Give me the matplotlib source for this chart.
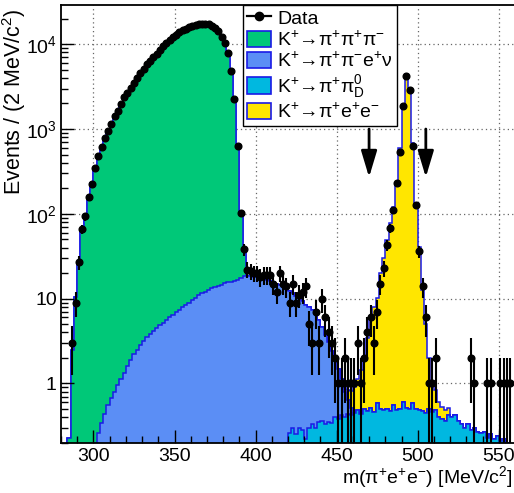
import numpy as np
import matplotlib
matplotlib.use('Agg')
import matplotlib.pyplot as plt
from matplotlib.patches import Patch
from matplotlib.lines import Line2D
from matplotlib.ticker import FixedLocator, FuncFormatter, MultipleLocator, LogLocator, NullFormatter

plt.rcParams['font.family'] = ['Liberation Sans', 'DejaVu Sans']
plt.rcParams['mathtext.fontset'] = 'custom'
plt.rcParams['mathtext.rm'] = 'Liberation Sans'
plt.rcParams['mathtext.it'] = 'Liberation Sans:italic'
plt.rcParams['mathtext.bf'] = 'Liberation Sans:bold'
plt.rcParams['mathtext.default'] = 'regular'

# ---- binning: 2 MeV bins from 280 to 560 MeV/c^2 ----
bin_edges = np.arange(280, 561, 2)

# ---- data counts per bin (centres 281, 283, ..., 559) ----
data_counts = [
    0, 0, 0, 3, 9, 27, 66, 93, 160, 225,
    351, 483, 621, 781, 960, 1150, 1430, 1650, 1970, 2380,
    2650, 3010, 3480, 3990, 4570, 5100, 5840, 6380, 6980, 7660,
    8500, 9400, 10300, 11200, 12100, 12900, 13800, 14600, 15300, 15900,
    16500, 17000, 17300, 17500, 17500, 17200, 16500, 15500, 14200, 12300,
    10300, 7870, 4870, 2250, 634, 102, 38, 22, 21, 20,
    20, 18, 19, 19, 19, 15, 12, 20, 15, 14,
    9, 15, 9, 11, 12, 14, 5, 3, 7, 3,
    10, 6, 4, 3, 2, 1, 1, 2, 1, 1,
    1, 3, 1, 2, 4, 6, 3, 7, 15, 23,
    43, 68, 111, 230, 540, 1850, 4270, 2900, 634, 127,
    36, 14, 6, 1, 1, 2, 0, 0, 0, 0,
    0, 0, 0, 0, 0, 0, 2, 1, 0, 0,
    0, 1, 1, 0, 0, 1, 1, 1, 1, 0,
]

# ---- MC: K+ -> pi+ pi+ pi- ----
mc_3pi = [
    0, 0, 0.23, 2.5, 10.5, 27, 62, 95, 155, 228,
    345, 480, 620, 780, 955, 1150, 1420, 1650, 1960, 2360,
    2650, 3000, 3470, 3980, 4560, 5100, 5830, 6370, 6970, 7650,
    8490, 9390, 10290, 11190, 12090, 12890, 13790, 14590, 15290, 15890,
    16490, 16990, 17290, 17490, 17490, 17190, 16490, 15490, 14190, 12290,
    10290, 7850, 4850, 2230, 620, 88, 20,
] + [0] * 83

# ---- MC: K+ -> pi+ pi- e+ nu ----
mc_ke4 = [0] * 10 + [
    0.2, 0.26, 0.34, 0.44, 0.55, 0.67, 0.8, 0.96, 1.12, 1.31,
    1.6, 1.9, 2.2, 2.5, 2.85, 3.2, 3.55, 3.85, 4.1, 4.5,
    4.9, 5.2, 5.6, 6.0, 6.4, 6.9, 7.3, 7.9, 8.4, 9.0,
    9.6, 10.3, 11.0, 11.6, 12.1, 12.7, 13.2, 13.7, 14.1, 14.6,
    15.2, 15.6, 15.9, 16.3, 16.8, 17.6, 18.5, 18.6, 18.4, 18.2,
    17.9, 17.5, 17.0, 16.6, 16.1, 15.6, 15.0, 14.5, 13.8, 13.0,
    12.2, 11.4, 10.6, 9.8, 9.0, 8.2, 7.6, 7.0, 6.2, 5.2,
    4.3, 3.4, 2.7, 2.1, 1.6, 1.1, 0.7, 0.4, 0.2, 0.1,
] + [0] * 50

# ---- MC: K+ -> pi+ pi0_D ----
mc_pi0d = [0] * 69 + [
    0.2, 0.26, 0.3, 0.25, 0.3, 0.28, 0.22, 0.3, 0.33, 0.3,
    0.35, 0.36, 0.33, 0.35, 0.34, 0.4, 0.38, 0.42, 0.4, 0.44,
    0.42, 0.45, 0.48, 0.44, 0.5, 0.47, 0.52, 0.46, 0.58, 0.5,
    0.48, 0.5, 0.47, 0.55, 0.48, 0.5, 0.6, 0.52, 0.5, 0.58,
    0.5, 0.48, 0.47, 0.45, 0.5, 0.46, 0.48, 0.4, 0.38, 0.36,
    0.42, 0.4, 0.42, 0.36, 0.33, 0.3, 0.33, 0.28, 0.3, 0.27,
    0.26, 0.27, 0.23, 0.25, 0.22, 0.24, 0.21, 0.22, 0.2, 0.19,
    0.18,
]

# ---- MC: K+ -> pi+ e+ e- (signal) ----
mc_piee = [0] * 87 + [
    0.1, 0.2, 0.3, 0.45, 0.65, 1.0, 1.5, 3.0, 5.5, 7.5,
    9.5, 19.5, 30, 48, 77, 119, 229, 600, 1800, 4500,
    3050, 690, 133, 40, 12, 4.6, 1.5, 0.6, 0.35, 0.2,
    0.15, 0.12, 0.1,
] + [0] * 20

signal_window = [470, 505]
x_major = [300, 350, 400, 450, 500, 550]
y_major = [1, 10, 100, 1000, 10000]

col_3pi = '#00c878'
col_ke4 = '#5b8ef5'
col_pi0d = '#00b8e0'
col_piee = '#ffe600'
col_line = '#1a1ae6'

fig = plt.figure(figsize=(5.14, 4.93), dpi=100)
ax = fig.add_axes([61 / 514, 1 - 442.7 / 493, 454 / 514, 437.7 / 493])
ax.set_yscale('log')
ax.set_xlim(280, 560)
ax.set_ylim(0.2, 29000)

data = np.array(data_counts, dtype=float)
c1 = np.array(mc_pi0d, dtype=float)
c2 = c1 + np.array(mc_ke4, dtype=float)
c3 = c2 + np.array(mc_3pi, dtype=float)
c4 = c3 + np.array(mc_piee, dtype=float)

floor = 1e-3
for vals, col in [(c4, col_piee), (c3, col_3pi), (c2, col_ke4), (c1, col_pi0d)]:
    ax.stairs(np.maximum(vals, floor), bin_edges, baseline=floor, fill=True,
              facecolor=col, edgecolor=col_line, linewidth=1.1, zorder=1)

# grid (dotted) beneath histograms
for xv in x_major:
    ax.axvline(xv, color='#666666', ls=(0, (1, 2.5)), lw=0.9, zorder=0.5)
for yv in y_major:
    ax.axhline(yv, color='#666666', ls=(0, (1, 2.5)), lw=0.9, zorder=0.5)

centers = 0.5 * (bin_edges[:-1] + bin_edges[1:])
mask = data > 0
err = np.sqrt(data)
lo = np.minimum(err, data - floor)
ax.errorbar(centers[mask], data[mask], yerr=[lo[mask], err[mask]], xerr=1.0,
            fmt='o', ms=4.8, color='black', ecolor='black', elinewidth=1.5,
            capsize=0, zorder=4)

for xa in signal_window:
    ax.annotate('', xy=(xa, 270), xytext=(xa, 1000),
                arrowprops=dict(arrowstyle='-|>,head_width=0.24,head_length=0.8',
                                color='black', lw=2.0, mutation_scale=20,
                                shrinkA=0, shrinkB=0), zorder=5)

# ticks
ax.xaxis.set_major_locator(FixedLocator(x_major))
ax.xaxis.set_minor_locator(MultipleLocator(10))
ax.yaxis.set_major_locator(FixedLocator(y_major))
ax.yaxis.set_minor_locator(LogLocator(base=10, subs=np.arange(2, 10)))
ax.yaxis.set_minor_formatter(NullFormatter())

def yfmt(v, pos):
    if abs(v - 1) < 1e-9:
        return '1'
    if abs(v - 10) < 1e-9:
        return '10'
    return r'$10^{%d}$' % int(round(np.log10(v)))

ax.yaxis.set_major_formatter(FuncFormatter(yfmt))
ax.tick_params(which='both', direction='in', top=False, right=False, width=1.0,
               labelsize=14)
ax.tick_params(which='major', length=9.5)
ax.tick_params(which='minor', length=5)
ax.tick_params(axis='x', pad=4)
ax.tick_params(axis='y', pad=3)
for sp in ax.spines.values():
    sp.set_linewidth(1.3)

fig.text(14.5 / 514, 1 - 8 / 493, 'Events / (2 MeV/c$^{2}$)', rotation=90,
         ha='center', va='top', fontsize=15.5)
fig.text(513 / 514, 1 - 477 / 493, r'm($\pi^{+}$e$^{+}$e$^{-}$) [MeV/c$^{2}$]',
         ha='right', va='center', fontsize=14)

handles = [
    Line2D([], [], color='black', marker='o', ms=6, lw=1.6),
    Patch(facecolor=col_3pi, edgecolor=col_line, lw=1.2),
    Patch(facecolor=col_ke4, edgecolor=col_line, lw=1.2),
    Patch(facecolor=col_pi0d, edgecolor=col_line, lw=1.2),
    Patch(facecolor=col_piee, edgecolor=col_line, lw=1.2),
]
labels = [
    'Data',
    'K$^{+}$\u2192$\\pi^{+}\\pi^{+}\\pi^{-}$',
    'K$^{+}$\u2192$\\pi^{+}\\pi^{-}$e$^{+}\\nu$',
    'K$^{+}$\u2192$\\pi^{+}\\pi^{0}_{D}$',
    'K$^{+}$\u2192$\\pi^{+}$e$^{+}$e$^{-}$',
]
leg = ax.legend(handles, labels, loc='upper left',
                bbox_to_anchor=(243 / 514, 1 - 5 / 493), bbox_transform=fig.transFigure,
                fontsize=14, frameon=True, fancybox=False, edgecolor='black',
                framealpha=1, borderaxespad=0, borderpad=0.2, labelspacing=0.12,
                handlelength=1.25, handleheight=0.9, handletextpad=0.3)
leg.get_frame().set_linewidth(1.0)
leg.set_zorder(6)

fig.savefig('out.png', dpi=100)
